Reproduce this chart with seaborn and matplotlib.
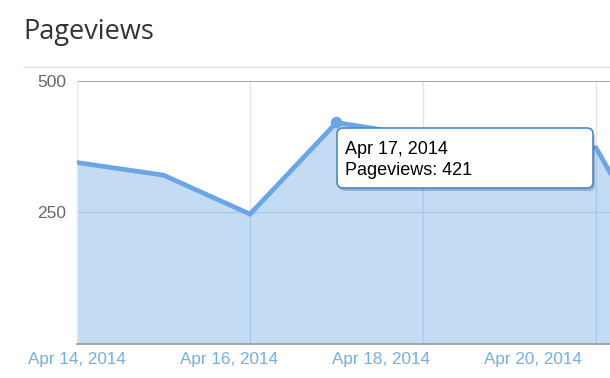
import matplotlib
matplotlib.use('Agg')
import numpy             as np
import pandas            as pd
import matplotlib.pyplot as plt
import matplotlib.dates  as mdates
import seaborn           as sns
from matplotlib.patches import FancyBboxPatch

# Data (Apr 18/19 are hidden by the tooltip, estimated)
dates     = pd.date_range('2014-04-14', '2014-04-21', freq='D')
pageviews = [345, 321, 247, 421, 395, 362, 373, 85]
tick_text = ['Apr 14, 2014', 'Apr 16, 2014', 'Apr 18, 2014', 'Apr 20, 2014']
grid_days = ['2014-04-16', '2014-04-18', '2014-04-20']
hover_idx = 3

df = pd.DataFrame({'date': dates, 'pageviews': pageviews})

sns.set_style('white')
plt.rcParams['font.family'] = ['Liberation Sans', 'DejaVu Sans']

fig = plt.figure(figsize=(6.1, 3.78), dpi=100)
ax  = fig.add_axes([77 / 610, 1 - 344 / 378, 1 - 77 / 610, (344 - 81) / 378])

line_col = '#6aa6e8'
fill_col = '#c4dbf4'

area = ax.fill_between(df['date'], df['pageviews'], 0, color=fill_col, lw=0, zorder=1)
sns.lineplot(data=df, x='date', y='pageviews', ax=ax, color=line_col,
             lw=3.4, zorder=3, solid_joinstyle='miter')
ax.scatter(df['date'][hover_idx], df['pageviews'][hover_idx], s=70,
           color=line_col, zorder=4, edgecolor='none')

# axis ranges
x0 = mdates.date2num(dates[0])
ax.set_xlim(x0, x0 + 533 / 86.5)
ax.set_ylim(0, 500)

# gridlines: grey on white, bluish where they cross the area
for d in grid_days:
    ax.axvline(pd.Timestamp(d), color='#e4e4e4', lw=1, zorder=0.5)
    gl = ax.axvline(pd.Timestamp(d), color='#a9c8ea', lw=1, zorder=1.5)
    gl.set_clip_path(area.get_paths()[0], area.get_transform())
ax.axhline(250, color='#d8d8d8', lw=1, zorder=0.5)
hl = ax.axhline(250, color='#a9c8ea', lw=1, zorder=1.5)
hl.set_clip_path(area.get_paths()[0], area.get_transform())
ax.axhline(500, color='#9a9a9a', lw=1.2, zorder=2)

# spines
for s in ['top', 'right']:
    ax.spines[s].set_visible(False)
ax.spines['left'].set_color('#e8e8e8')
ax.spines['left'].set_linewidth(1)
ax.spines['bottom'].set_color('#9a9a9a')
ax.spines['bottom'].set_linewidth(1.2)

# ticks (the reference's labels sit slightly off the day grid)
label_pos = [x0 + i * 152 / 86.5 for i in range(len(tick_text))]
ax.set_xticks(label_pos)
ax.set_xticklabels(tick_text, fontsize=12.3, color='#74aee8')
ax.tick_params(axis='x', length=0, pad=6)
ax.set_yticks([250, 500])
ax.set_yticklabels(['250', '500'], fontsize=12.5, color='#666666')
ax.tick_params(axis='y', length=7, width=1, color='#cccccc', pad=1)
ax.set_xlabel('')
ax.set_ylabel('')

# title and separator
fig.text(23 / 610, 1 - 39 / 378, 'Pageviews', fontsize=19.5, color='#333333',
         family=['Open Sans', 'DejaVu Sans'], va='baseline', ha='left')
fig.add_artist(plt.Line2D([23 / 610, 1], [1 - 67 / 378] * 2,
                          color='#e6e6e6', lw=1))

# tooltip
bx0, bx1, by0, by1 = 337, 593, 128, 188
shadow = FancyBboxPatch((bx0 + 2, 378 - by1 - 3), bx1 - bx0, by1 - by0,
                        boxstyle='round,pad=0,rounding_size=6',
                        transform=None, fc='#000000', alpha=0.2, ec='none',
                        zorder=9)
box = FancyBboxPatch((bx0, 378 - by1), bx1 - bx0, by1 - by0,
                     boxstyle='round,pad=0,rounding_size=6',
                     transform=None, fc='white', ec='#4a87cf', lw=1.2,
                     zorder=10)
fig.add_artist(shadow)
fig.add_artist(box)
hover_date = df['date'][hover_idx]
fig.text(345 / 610, 1 - 154 / 378,
         f"{hover_date.strftime('%b')} {hover_date.day}, {hover_date.year}",
         fontsize=13, color='black', va='baseline', zorder=11)
fig.text(345 / 610, 1 - 175 / 378, f"Pageviews: {pageviews[hover_idx]}",
         fontsize=13, color='black', va='baseline', zorder=11)

fig.savefig('out.png', dpi=100)
